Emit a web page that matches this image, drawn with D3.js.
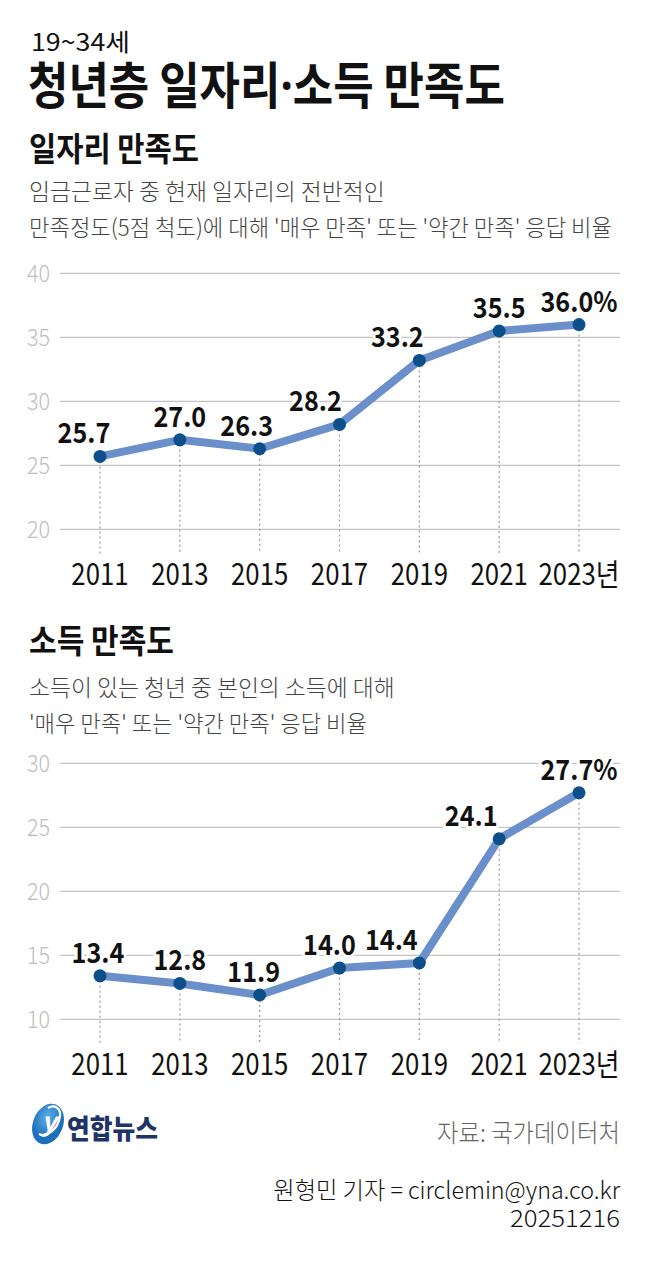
<!DOCTYPE html>
<html>
<head>
<meta charset="utf-8">
<script src="https://cdn.jsdelivr.net/npm/d3@7"></script>
<style>
  html, body { margin: 0; padding: 0; background: #fff; }
  svg { display: block; font-family: "Noto Sans CJK KR", "Noto Sans", sans-serif; }
</style>
</head>
<body>
<svg width="650" height="1288"></svg>
<script>
const years = ["2011", "2013", "2015", "2017", "2019", "2021", "2023"];
const jobSatisfaction = [25.7, 27.0, 26.3, 28.2, 33.2, 35.5, 36.0];
const incomeSatisfaction = [13.4, 12.8, 11.9, 14.0, 14.4, 24.1, 27.7];
const jobTicks = [20, 25, 30, 35, 40];
const incomeTicks = [10, 15, 20, 25, 30];

const svg = d3.select("svg");

// text with horizontal squeeze (the original font is condensed)
function label(parent, x, y, str, o = {}) {
  const t = parent
    .append("text")
    .attr("text-anchor", o.anchor || "start")
    .attr("font-size", o.size || 24)
    .attr("font-weight", o.weight || 400)
    .attr("fill", o.color || "#111");
  if (Array.isArray(str)) {
    // pieces: [text, fontFamily?]
    str.forEach(([s, fam]) => {
      const ts = t.append("tspan").text(s);
      if (fam) ts.attr("font-family", fam);
    });
  } else {
    t.text(str);
  }
  let s = o.sx || 1;
  if (o.width) s = o.width / t.node().getComputedTextLength();
  t.attr("transform", `translate(${x},${y}) scale(${s},1)`);
  return t;
}

// header
label(svg, 31, 51, "19~34세", { size: 24, width: 99 });
label(svg, 28, 104, [["청년층 일자리"], ["·", "Noto Sans"], ["소득 만족도"]], {
  size: 50, weight: 700, width: 477,
});

function drawChart(cfg) {
  const g = svg.append("g");
  label(g, 29, cfg.titleY, cfg.title, { size: 33, weight: 700, width: cfg.titleW });
  cfg.sub.forEach((s, i) => {
    label(g, 29, cfg.subY[i], s, { size: 23, weight: 300, color: "#444", width: cfg.subW[i] });
  });

  const x = d3.scalePoint().domain(years).range([100, 579]);
  const y = d3.scaleLinear().domain(d3.extent(cfg.ticks)).range([cfg.bottom, cfg.bottom - 256]);

  // grid
  g.append("g")
    .selectAll("line")
    .data(cfg.ticks)
    .join("line")
    .attr("x1", 60)
    .attr("x2", 620)
    .attr("y1", (d) => y(d))
    .attr("y2", (d) => y(d))
    .attr("stroke", "#c4c4c4")
    .attr("stroke-width", 1.2);

  const yl = g.append("g");
  cfg.ticks.forEach((d) => {
    label(yl, 50, y(d) + 8.5, d, { size: 24, weight: 300, color: "#bdbdbd", anchor: "end", sx: 0.9 });
  });

  // dotted drop lines
  g.append("g")
    .selectAll("line")
    .data(cfg.values)
    .join("line")
    .attr("x1", (d, i) => x(years[i]))
    .attr("x2", (d, i) => x(years[i]))
    .attr("y1", (d) => y(d))
    .attr("y2", cfg.bottom + 24)
    .attr("stroke", "#9a9a9a")
    .attr("stroke-width", 1.2)
    .attr("stroke-dasharray", "2,3");

  // x labels
  const xl = g.append("g");
  years.forEach((yr, i) => {
    label(xl, x(yr), cfg.bottom + 56, i === years.length - 1 ? yr + "년" : yr, {
      size: 30, weight: 400, color: "#111", anchor: "middle", sx: 0.86,
    });
  });

  // line
  g.append("path")
    .datum(cfg.values)
    .attr("fill", "none")
    .attr("stroke", "#6a8fcb")
    .attr("stroke-width", 8)
    .attr("stroke-linejoin", "round")
    .attr("stroke-linecap", "round")
    .attr(
      "d",
      d3.line()
        .x((d, i) => x(years[i]))
        .y((d) => y(d))
    );

  g.append("g")
    .selectAll("circle")
    .data(cfg.values)
    .join("circle")
    .attr("cx", (d, i) => x(years[i]))
    .attr("cy", (d) => y(d))
    .attr("r", 6.5)
    .attr("fill", "#0c4f8b");

  // value labels
  const vl = g.append("g");
  cfg.values.forEach((v, i) => {
    const str = v.toFixed(1) + (i === cfg.values.length - 1 ? "%" : "");
    label(vl, x(years[i]) + cfg.shift[i], y(v) - 13, str, {
      size: 28, weight: 700, color: "#111", anchor: "middle", sx: 0.9,
    })
      .attr("stroke", "#fff")
      .attr("stroke-width", 6)
      .attr("stroke-linejoin", "round")
      .attr("paint-order", "stroke");
  });
}

drawChart({
  title: "일자리 만족도",
  titleY: 161,
  titleW: 170,
  sub: [
    "임금근로자 중 현재 일자리의 전반적인",
    "만족정도(5점 척도)에 대해 '매우 만족' 또는 '약간 만족' 응답 비율",
  ],
  subY: [200, 236],
  subW: [356, 583],
  values: jobSatisfaction,
  ticks: jobTicks,
  bottom: 529.4,
  shift: [-16, 0, -13, -24, -22, 0, 0],
});

drawChart({
  title: "소득 만족도",
  titleY: 653,
  titleW: 145,
  sub: [
    "소득이 있는 청년 중 본인의 소득에 대해",
    "'매우 만족' 또는 '약간 만족' 응답 비율",
  ],
  subY: [696, 732],
  subW: [366, 338],
  values: incomeSatisfaction,
  ticks: incomeTicks,
  bottom: 1019.3,
  shift: [-2, 0, -6, -10, -28, -28, 0],
});

// logo
const logo = svg.append("g").attr("transform", "translate(48,1124)");
const grad = svg.append("defs").append("radialGradient").attr("id", "lg").attr("cx", "40%").attr("cy", "35%");
grad.append("stop").attr("offset", "0%").attr("stop-color", "#5fb0ea");
grad.append("stop").attr("offset", "100%").attr("stop-color", "#1c6fba");
logo.append("ellipse").attr("rx", 15).attr("ry", 21).attr("transform", "rotate(22)").attr("fill", "url(#lg)");
logo.append("path")
  .attr("d", "M-9,10 C-2,14 10,6 12,-8 C13,-16 6,-20 0,-16")
  .attr("fill", "none")
  .attr("stroke", "#fff")
  .attr("stroke-width", 2.2);
label(logo, 1, 7, "y", { size: 26, weight: 700, color: "#fff", anchor: "middle" })
  .attr("font-style", "italic");
label(svg, 67, 1139, "연합뉴스", { size: 27, weight: 900, color: "#1e3466", width: 91 });

// footer
label(svg, 620, 1142, "자료: 국가데이터처", { size: 25, weight: 300, color: "#666", anchor: "end", width: 183 });
label(svg, 620, 1199, "원형민 기자 = circlemin@yna.co.kr", { size: 24, weight: 300, color: "#111", anchor: "end", width: 347 });
label(svg, 620, 1227, "20251216", { size: 24, weight: 300, color: "#111", anchor: "end", width: 110 });
</script>
</body>
</html>
